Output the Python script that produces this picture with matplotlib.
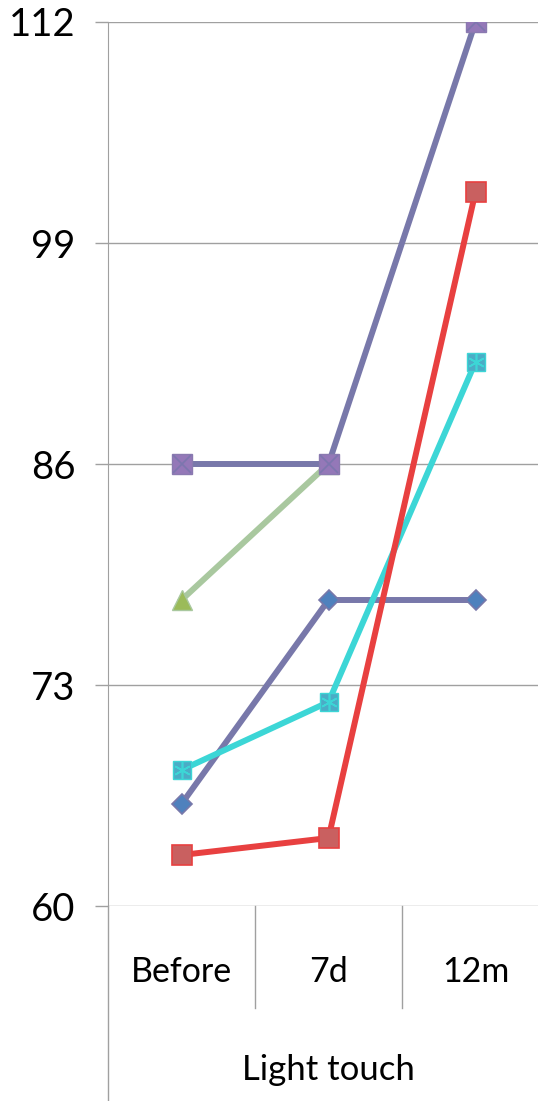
import numpy as np
import matplotlib.pyplot as plt
from matplotlib.lines import Line2D

plt.rcParams['font.family'] = ['Lato', 'DejaVu Sans']

# data
categories = ['Before', '7d', '12m']
yticks = [60, 73, 86, 99, 112]
purple_x = [86, 86, 112]
red_sq = [63, 64, 102]
cyan_sq = [68, 72, 92]
green_tri = [78, 86, np.nan]
blue_dia = [66, 78, 78]

W, H = 538, 1101
fig = plt.figure(figsize=(W / 100, H / 100), dpi=100)
# plot area in pixels: x 108..549 (runs past the right edge), y 22..906
left, right, top, bottom = 108, 549, 22, 906
ax = fig.add_axes([left / W, (H - bottom) / H, (right - left) / W, (bottom - top) / H])

x = np.arange(len(categories))
lw = 4.3

ax.plot(x, blue_dia, color='#7878aa', lw=lw, marker='D', ms=10.5,
        mfc='#4f81bd', mec='#7878aa', mew=1.2, zorder=3)
ax.plot(x, green_tri, color='#a9c89f', lw=lw, marker='^', ms=15,
        mfc='#9bbb59', mec='#a9c89f', mew=1, zorder=3)
ax.plot(x, cyan_sq, color='#3cd6d6', lw=lw, marker='s', ms=13.5,
        mfc='#4bacc6', mec='#3cd6d6', mew=1, zorder=4)
ax.plot(x, cyan_sq, ls='none', marker=(6, 2, 0), ms=12, mec='#3cd6d6', mew=1.2, zorder=5)
ax.plot(x, red_sq, color='#e84040', lw=lw, marker='s', ms=14.5,
        mfc='#c96060', mec='#e84040', mew=1.2, zorder=4)
ax.plot(x, purple_x, color='#7878aa', lw=lw, marker='s', ms=14.5,
        mfc='#9478b8', mec='#8a7ab0', mew=1, zorder=5)
ax.plot(x, purple_x, ls='none', marker='x', ms=13.5, mec='#7c76ae', mew=1.2, zorder=6)

ax.set_xlim(-0.5, 2.5)
ax.set_ylim(60, 112)
ax.set_yticks(yticks)
ax.set_yticklabels([str(v) for v in yticks], fontsize=27.5)
ax.set_xticks(x)
ax.set_xticklabels(categories, fontsize=24.5)
ax.tick_params(axis='x', length=0, pad=36)
ax.tick_params(axis='y', length=9.4, width=1, color='#a0a0a0', pad=14)
ax.grid(axis='y', color='#a0a0a0', lw=1)
ax.set_axisbelow(True)
for s in ['top', 'right', 'bottom']:
    ax.spines[s].set_visible(False)
ax.spines['left'].set_color('#a0a0a0')

# category separators and the extended left axis line below the plot
ph = bottom - top
sep_y = -(1008 - bottom) / ph
for xb in [0.5, 1.5]:
    xa = (xb + 0.5) / 3
    ax.add_line(Line2D([xa, xa], [0, sep_y], transform=ax.transAxes,
                       color='#a0a0a0', lw=1, clip_on=False))
ax.add_line(Line2D([0, 0], [0, -(H - bottom) / ph], transform=ax.transAxes,
                   color='#a0a0a0', lw=1, clip_on=False))

ax.text(0.5, -(1070 - bottom) / ph, 'Light touch', transform=ax.transAxes,
        ha='center', va='center', fontsize=25)

fig.savefig('out.png', dpi=100)
